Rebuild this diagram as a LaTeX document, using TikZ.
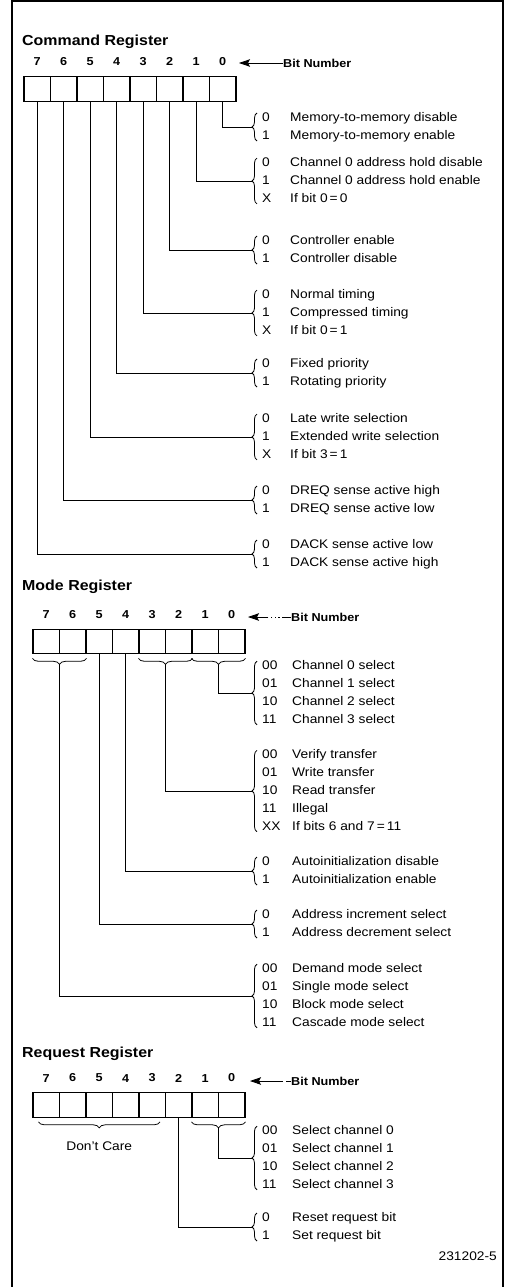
\documentclass[tikz,border=0pt]{standalone}
\usepackage{fontspec}
\setmainfont[FakeStretch=1.1]{Liberation Sans}
\usetikzlibrary{positioning,calc,decorations.pathreplacing,arrows.meta}

% list of codes with a brace on its left: name, middle y, code column, rows
\newcommand{\choices}[4]{%
  \node[choice] (#1) at (262,#2) {\begin{tabular}{@{}p{#3}@{}l@{}}#4\end{tabular}};
  \draw[brace left] ([shift={(-5pt,4pt)}]#1.south west) -- ([shift={(-5pt,-4pt)}]#1.north west);
  \coordinate (#1t) at ([xshift=-10pt]#1.west);
}

\begin{document}
\begin{tikzpicture}
  [x=1pt, y=-1pt, node distance=10pt,
   bit box/.style={draw, line width=1.1pt, minimum width=26.5pt, minimum height=24.5pt, inner sep=0pt},
   bit num/.style={font=\fontsize{11.5}{12}\selectfont\bfseries, inner sep=0pt},
   reg title/.style={font=\fontsize{14.5}{16}\selectfont\bfseries, inner sep=0pt, anchor=base west},
   choice/.style={font=\fontsize{12.5}{17.8}\selectfont, inner sep=0pt, anchor=west},
   wire/.style={line width=0.8pt},
   brace left/.style={decorate, decoration={brace, amplitude=5pt}, line width=0.8pt},
   brace down/.style={decorate, decoration={brace, amplitude=6pt}, line width=0.8pt},
   bit arrow/.style={-{Stealth[length=11pt, width=7.5pt, inset=2pt]}, line width=0.8pt}]

  \useasboundingbox (0,0) rectangle (507,1287);
  \draw[line width=1.2pt] (12,1287) -- (12,1) -- (503,1) -- (503,1287);

  % Command Register
  \node[reg title] (ctitle) at (22,46) {Command Register};
  \foreach \b in {0,...,7} {
    \node[bit box] (c\b) at ({37.25+(7-\b)*26.5},89) {};
    \node[bit num, above=10pt of c\b] (cn\b) {\b};
  }
  \node[bit num, anchor=west] (cbit) at (283,63) {Bit Number};
  \coordinate (carr) at (239,63);
  \draw[bit arrow] (cbit) -- (carr);

  \choices{cg0}{127}{28pt}{0 & Memory-to-memory disable\\ 1 & Memory-to-memory enable}
  \choices{cg1}{181}{28pt}{0 & Channel 0 address hold disable\\ 1 & Channel 0 address hold enable\\ X & If bit 0\,=\,0}
  \choices{cg2}{250}{28pt}{0 & Controller enable\\ 1 & Controller disable}
  \choices{cg3}{313}{28pt}{0 & Normal timing\\ 1 & Compressed timing\\ X & If bit 0\,=\,1}
  \choices{cg4}{373}{28pt}{0 & Fixed priority\\ 1 & Rotating priority}
  \choices{cg5}{437}{28pt}{0 & Late write selection\\ 1 & Extended write selection\\ X & If bit 3\,=\,1}
  \choices{cg6}{500}{28pt}{0 & DREQ sense active high\\ 1 & DREQ sense active low}
  \choices{cg7}{554}{28pt}{0 & DACK sense active low\\ 1 & DACK sense active high}
  \foreach \b in {0,...,7} \draw[wire] (c\b.south) |- (cg\b t);

  % Mode Register
  \node[reg title] (mtitle) at (22,590) {Mode Register};
  \foreach \b in {0,...,7} {
    \node[bit box] (m\b) at ({46.25+(7-\b)*26.5},641.5) {};
    \node[bit num, above=10pt of m\b] (mn\b) {\b};
  }
  \node[bit num, anchor=west] (mbit) at (291,617) {Bit Number};
  \coordinate (marr) at (248,617);
  \draw[bit arrow, dash pattern=on 9pt off 2.5pt on 1.2pt off 2.5pt on 1.2pt off 2.5pt on 1.2pt off 2.5pt on 20pt] (mbit) -- (marr);

  \draw[brace down] ([yshift=-4pt]m6.south east) -- ([yshift=-4pt]m7.south west);
  \draw[brace down] ([yshift=-4pt]m2.south east) -- ([yshift=-4pt]m3.south west);
  \draw[brace down] ([yshift=-4pt]m0.south east) -- ([yshift=-4pt]m1.south west);
  \coordinate (mu76) at ([yshift=-10pt]$(m7.south)!0.5!(m6.south)$);
  \coordinate (mu32) at ([yshift=-10pt]$(m3.south)!0.5!(m2.south)$);
  \coordinate (mu10) at ([yshift=-10pt]$(m1.south)!0.5!(m0.south)$);

  \choices{mg10}{693}{30pt}{00 & Channel 0 select\\ 01 & Channel 1 select\\ 10 & Channel 2 select\\ 11 & Channel 3 select}
  \choices{mg32}{791}{30pt}{00 & Verify transfer\\ 01 & Write transfer\\ 10 & Read transfer\\ 11 & Illegal\\ XX & If bits 6 and 7\,=\,11}
  \choices{mg4}{871}{30pt}{0 & Autoinitialization disable\\ 1 & Autoinitialization enable}
  \choices{mg5}{924}{30pt}{0 & Address increment select\\ 1 & Address decrement select}
  \choices{mg76}{996}{30pt}{00 & Demand mode select\\ 01 & Single mode select\\ 10 & Block mode select\\ 11 & Cascade mode select}
  \draw[wire] (mu10) |- (mg10t);
  \draw[wire] (mu32) |- (mg32t);
  \draw[wire] (m4.south) |- (mg4t);
  \draw[wire] (m5.south) |- (mg5t);
  \draw[wire] (mu76) |- (mg76t);

  % Request Register
  \node[reg title] (rtitle) at (22,1057) {Request Register};
  \foreach \b in {0,...,7} {
    \node[bit box] (r\b) at ({46.25+(7-\b)*26.5},1105) {};
    \node[bit num, above=10pt of r\b] (rn\b) {\b};
  }
  \node[bit num, anchor=west] (rbit) at (291,1081) {Bit Number};
  \coordinate (rarr) at (250,1081);
  \draw[bit arrow, dash pattern=on 5pt off 3pt on 40pt] (rbit) -- (rarr);

  \draw[brace down] ([shift={(-6pt,-4pt)}]r3.south east) -- ([shift={(6pt,-4pt)}]r7.south west);
  \draw[brace down] ([yshift=-4pt]r0.south east) -- ([yshift=-4pt]r1.south west);
  \coordinate (ru10) at ([yshift=-10pt]$(r1.south)!0.5!(r0.south)$);
  \node[choice, anchor=center] (dcare) at ([yshift=-28pt]r5.south) {Don't Care};

  \choices{rg10}{1158}{30pt}{00 & Select channel 0\\ 01 & Select channel 1\\ 10 & Select channel 2\\ 11 & Select channel 3}
  \choices{rg2}{1227}{30pt}{0 & Reset request bit\\ 1 & Set request bit}
  \draw[wire] (ru10) |- (rg10t);
  \draw[wire] (r2.south) |- (rg2t);

  \node[choice, anchor=base east] (figno) at (497,1260) {231202-5};
\end{tikzpicture}
\end{document}
